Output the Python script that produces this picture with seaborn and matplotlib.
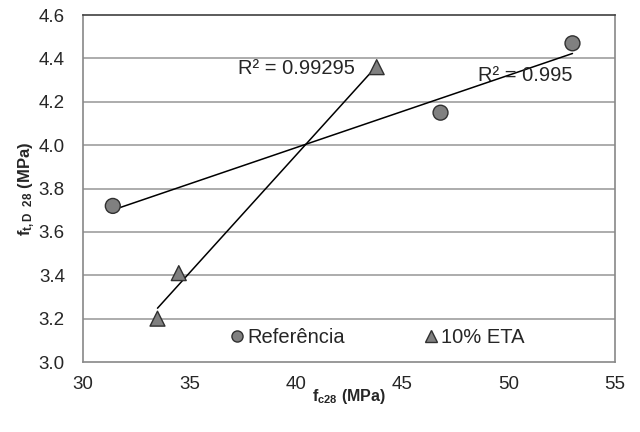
import numpy as np
import pandas as pd
import matplotlib
matplotlib.use("Agg")
import matplotlib.pyplot as plt
import seaborn as sns
from matplotlib.lines import Line2D

sns.set_style("white")
plt.rcParams['font.family'] = ['Liberation Sans', 'DejaVu Sans']
plt.rcParams['mathtext.fontset'] = 'custom'
plt.rcParams['mathtext.rm'] = 'Liberation Sans'
plt.rcParams['mathtext.it'] = 'Liberation Sans:italic'
plt.rcParams['mathtext.bf'] = 'Liberation Sans:bold'

ref_x = [31.4, 46.8, 53.0]
ref_y = [3.72, 4.15, 4.47]
eta_x = [33.5, 34.5, 43.8]
eta_y = [3.20, 3.41, 4.36]
series_names = ["Referência", "10% ETA"]
r2_labels = ["R² = 0.995", "R² = 0.99295"]
x_ticks = [30, 35, 40, 45, 50, 55]
y_ticks = [3.0, 3.2, 3.4, 3.6, 3.8, 4.0, 4.2, 4.4, 4.6]

df = pd.DataFrame({
    "x": ref_x + eta_x,
    "y": ref_y + eta_y,
    "s": [series_names[0]] * len(ref_x) + [series_names[1]] * len(eta_x),
})

fig = plt.figure(figsize=(6.4, 4.32), dpi=100)
ax = fig.add_axes([0.1297, 0.162, 0.8313, 0.803])

for yt in y_ticks[1:-1]:
    ax.axhline(yt, color='#a6a6a6', lw=1.3, zorder=0)

sns.regplot(x=ref_x, y=ref_y, ax=ax, scatter=False, ci=None, truncate=True,
            line_kws=dict(color='black', lw=1.1, zorder=2))
sns.regplot(x=eta_x, y=eta_y, ax=ax, scatter=False, ci=None, truncate=True,
            line_kws=dict(color='black', lw=1.1, zorder=2))

sns.scatterplot(data=df, x="x", y="y", style="s", markers={series_names[0]: 'o', series_names[1]: '^'},
                s=115, color='#808080', edgecolor='#303030', linewidth=1.0, ax=ax, legend=False, zorder=3)

ax.set_xlim(30, 55)
ax.set_ylim(3.0, 4.6)
ax.set_xticks(x_ticks)
ax.set_yticks(y_ticks)
ax.set_yticklabels([f"{v:.1f}" for v in y_ticks])
ax.tick_params(axis='both', labelsize=13.5, direction='out', length=5, color='#888888', width=1.0)
ax.tick_params(axis='y', pad=8)
ax.tick_params(axis='x', pad=5)
for sp in ax.spines.values():
    sp.set_color('#888888')
    sp.set_linewidth(1.2)
ax.spines['top'].set_color('#404040')

ax.set_xlabel(r"$\mathbf{f_{c28}}$ (MPa)", fontsize=11.5, fontweight='bold', labelpad=-4)
ax.set_ylabel(r"$\mathbf{f}_{\mathbf{t,D\ \ 28}}$ (MPa)", fontsize=12, fontweight='bold', labelpad=1)

ax.text(48.56, 4.32, r2_labels[0], fontsize=14.5, ha='left', va='center')
ax.text(37.28, 4.355, r2_labels[1], fontsize=14.5, ha='left', va='center')

handles = [
    Line2D([], [], marker='o', ls='', color='#808080', markeredgecolor='#303030', markersize=8),
    Line2D([], [], marker='^', ls='', color='#808080', markeredgecolor='#303030', markersize=8),
]
ax.legend(handles, series_names, loc='center', bbox_to_anchor=(0.5506, 0.07), ncol=2,
          frameon=False, fontsize=14.5, handletextpad=0.0, columnspacing=3.8, handlelength=1.0,
          borderaxespad=0.0, borderpad=0.0)

fig.savefig("out.png", dpi=100)
